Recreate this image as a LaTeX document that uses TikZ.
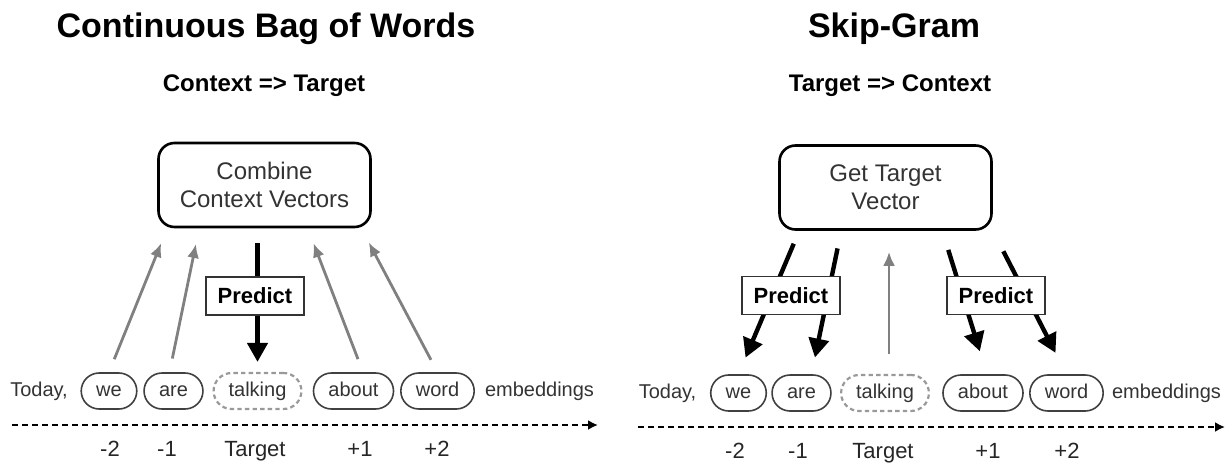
\documentclass[tikz,border=0pt]{standalone}
\usepackage{fontspec}
\setmainfont{Liberation Sans}
\usetikzlibrary{arrows.meta}
\usetikzlibrary{calc}

\tikzset{
  heading/.style={font=\fontsize{17}{20}\selectfont\bfseries,anchor=base},
  subheading/.style={font=\fontsize{12}{14}\selectfont\bfseries,anchor=base},
  stage/.style={draw,line width=1.3pt,rounded corners=8pt,fill=white,minimum width=106pt,minimum height=42pt,align=center,font=\fontsize{12}{14}\selectfont,text=black!80},
  predbox/.style={draw=black!80,line width=0.8pt,fill=white,minimum width=49pt,minimum height=19pt,inner sep=0pt,font=\fontsize{11}{13}\selectfont\bfseries},
  tok/.style={draw=black!75,line width=0.8pt,rounded corners=9pt,minimum height=18pt,inner xsep=7.5pt,text height=7.2pt,text depth=2.2pt,font=\fontsize{10}{12}\selectfont,text=black!80},
  tgtword/.style={tok,draw=black!40,line width=1.1pt,dash pattern=on 2.2pt off 1.6pt},
  sidetext/.style={font=\fontsize{10}{12}\selectfont,text height=7.2pt,text depth=2.2pt,text=black!80},
  poslabel/.style={font=\fontsize{11}{13}\selectfont,anchor=base,text=black!85},
  ctx/.style={draw=black!50,line width=1.4pt,-{Latex[length=7pt,width=6pt]}},
  pred/.style={line width=2.2pt,-{Triangle[length=9.5pt,width=10pt]}},
  timeline/.style={line width=1pt,dash pattern=on 3pt off 2pt,-{Latex[length=5pt,width=5pt]}}
}

\begin{document}
\begin{tikzpicture}[x=0.5pt,y=-0.5pt]
\useasboundingbox (0,0) rectangle (1231,465);

% CBOW
\node[heading] (cbowT) at (266,38) {Continuous Bag of Words};
\node[subheading] (cbowS) at (264,92) {Context => Target};
\node[stage] (combine) at (264.5,185) {Combine\\Context Vectors};

\node[sidetext] (todayL) at (39,391) {Today,};
\node[tok] (weL) at (109,391) {we};
\node[tok] (areL) at (173.5,391) {are};
\node[tgtword] (talkL) at (257.5,391) {talking};
\node[tok] (aboutL) at (353.5,391) {about};
\node[tok] (wordL) at (437.5,391) {word};
\node[sidetext] (embL) at (539.5,391) {embeddings};

\coordinate (axL0) at (12,425);
\coordinate (axL1) at (598,425);
\draw[timeline] (axL0) -- (axL1);
\node[poslabel] (mtwoL) at (110,456) {-2};
\node[poslabel] (moneL) at (167,456) {-1};
\node[poslabel] (tgtL) at (255,456) {Target};
\node[poslabel] (poneL) at (360,456) {+1};
\node[poslabel] (ptwoL) at (437,456) {+2};

\draw[ctx,shorten <=7pt,shorten >=8pt] (weL.north) -- ($(combine.south west)+(10,0)$);
\draw[ctx,shorten <=7pt,shorten >=8pt] ($(areL.north)+(-4,0)$) -- ($(combine.south west)+(42,0)$);
\draw[ctx,shorten <=7pt,shorten >=8pt] ($(aboutL.north)+(9.5,0)$) -- ($(combine.south east)+(-64,0)$);
\draw[ctx,shorten <=7pt,shorten >=8pt] (wordL.north) -- ($(combine.south east)+(-10.5,0)$);
\draw[pred,shorten <=7.5pt,shorten >=5pt] (talkL.north |- combine.south) -- (talkL.north);
\node[predbox] (predL) at (255,296) {Predict};

% Skip-Gram
\node[heading] (sgT) at (894,38) {Skip-Gram};
\node[subheading] (sgS) at (890,92) {Target => Context};
\node[stage] (getvec) at (885.5,187.5) {Get Target\\Vector};

\node[sidetext] (todayR) at (667.5,393) {Today,};
\node[tok] (weR) at (738.5,393) {we};
\node[tok] (areR) at (801.5,393) {are};
\node[tgtword] (talkR) at (885,393) {talking};
\node[tok] (aboutR) at (983,393) {about};
\node[tok] (wordR) at (1066.5,393) {word};
\node[sidetext] (embR) at (1166.5,393) {embeddings};

\coordinate (axR0) at (638,427);
\coordinate (axR1) at (1225,427);
\draw[timeline] (axR0) -- (axR1);
\node[poslabel] (mtwoR) at (735,458) {-2};
\node[poslabel] (moneR) at (798,458) {-1};
\node[poslabel] (tgtR) at (883,458) {Target};
\node[poslabel] (poneR) at (988,458) {+1};
\node[poslabel] (ptwoR) at (1067,458) {+2};

\draw[pred,shorten <=7pt,shorten >=9pt] ($(getvec.south west)+(21,0)$) -- (weR.north);
\draw[pred,shorten <=9pt,shorten >=8.5pt] ($(getvec.south west)+(63,0)$) -- ($(areR.north)+(10,0)$);
\draw[pred,shorten <=10pt,shorten >=12pt] ($(getvec.south east)+(-50.5,0)$) -- ($(aboutR.north)+(4,0)$);
\draw[pred,shorten <=11.5pt,shorten >=12pt] (getvec.south east) -- (wordR.north);
\draw[ctx,shorten <=10pt,shorten >=10.5pt] ($(talkR.north)+(4,0)$) -- ($(talkR.north |- getvec.south)+(4,0)$);
\node[predbox] (predR1) at (791,295.5) {Predict};
\node[predbox] (predR2) at (996,295.5) {Predict};
\end{tikzpicture}
\end{document}
